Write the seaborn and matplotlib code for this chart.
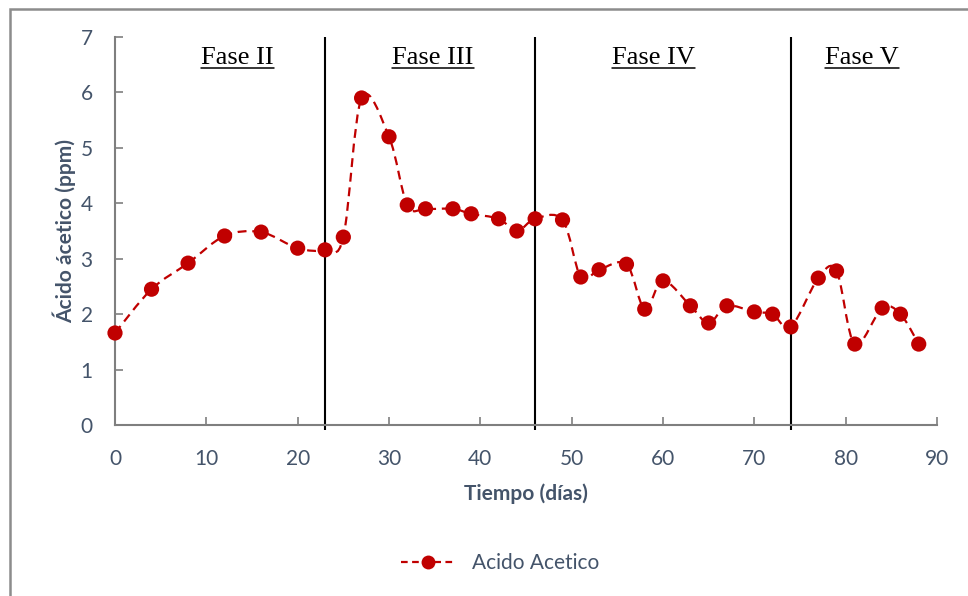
import numpy as np
import matplotlib
matplotlib.use("Agg")
import matplotlib.pyplot as plt
from matplotlib.path import Path
from matplotlib.patches import PathPatch, Rectangle
from matplotlib.lines import Line2D
import seaborn as sns
import pandas as pd

# Acetic acid measurements over the run
dias = [0, 4, 8, 12, 16, 20, 23, 25, 27, 30, 32, 34, 37, 39, 42, 44, 46, 49,
        51, 53, 56, 58, 60, 63, 65, 67, 70, 72, 74, 77, 79, 81, 84, 86, 88]
acido_acetico = [1.66, 2.45, 2.92, 3.41, 3.48, 3.19, 3.16, 3.39, 5.90, 5.20,
                 3.97, 3.90, 3.90, 3.81, 3.72, 3.50, 3.72, 3.70, 2.67, 2.80,
                 2.90, 2.09, 2.60, 2.15, 1.84, 2.15, 2.04, 2.00, 1.77, 2.65,
                 2.78, 1.46, 2.11, 2.00, 1.46]

# Phase boundaries and phase titles
limites_fase = [23, 46, 74]
fases = ["Fase II", "Fase III", "Fase IV", "Fase V"]
centros_fase = [13.4, 34.8, 59.0, 81.8]

x_ticks = [0, 10, 20, 30, 40, 50, 60, 70, 80, 90]
y_ticks = [0, 1, 2, 3, 4, 5, 6, 7]

ROJO = "#C00000"
TEXTO = "#44546A"

df = pd.DataFrame({"dias": dias, "acido": acido_acetico})

sns.set_theme(style="white")
plt.rcParams["font.family"] = ["Lato", "DejaVu Sans"]

fig = plt.figure(figsize=(9.68, 5.96), dpi=100)
ax = fig.add_axes([115 / 968, 1 - 425 / 596, (937 - 115) / 968, (425 - 37) / 596])

ax.set_xlim(0, 90)
ax.set_ylim(0, 7)


def smooth_path(xs, ys):
    # Excel-style smoothed connector: cubic Bezier segments through each point
    pts = np.column_stack([xs, ys]).astype(float)
    n = len(pts)
    verts = [pts[0]]
    codes = [Path.MOVETO]
    for i in range(n - 1):
        p0 = pts[i - 1] if i > 0 else pts[i]
        p1 = pts[i]
        p2 = pts[i + 1]
        p3 = pts[i + 2] if i + 2 < n else pts[i + 1]
        c1 = p1 + (p2 - p0) / 6.0
        c2 = p2 - (p3 - p1) / 6.0
        verts += [c1, c2, p2]
        codes += [Path.CURVE4] * 3
    return Path(verts, codes)


curva = PathPatch(smooth_path(df["dias"], df["acido"]), fill=False,
                  edgecolor=ROJO, linewidth=1.6, linestyle=(0, (4, 2.6)),
                  zorder=3)
ax.add_patch(curva)

sns.scatterplot(data=df, x="dias", y="acido", ax=ax, color=ROJO, s=120,
                edgecolor="none", zorder=4, legend=False, clip_on=False)

# Phase separators
ax.vlines(limites_fase, -0.09, 7, colors="black", linewidth=1.5,
          clip_on=False, zorder=2)

ax.set_xticks(x_ticks)
ax.set_yticks(y_ticks)
ax.tick_params(axis="both", direction="in", length=6, width=1.2,
               color="#7f7f7f", labelsize=15, labelcolor=TEXTO,
               left=True, bottom=True)
ax.tick_params(axis="y", pad=16)
ax.tick_params(axis="x", pad=17)
for s in ["top", "right"]:
    ax.spines[s].set_visible(False)
for s in ["left", "bottom"]:
    ax.spines[s].set_color("#7f7f7f")
    ax.spines[s].set_linewidth(1.5)

ax.set_xlabel("Tiempo (días)", fontsize=15, fontweight="bold", color=TEXTO,
              labelpad=11)
ax.set_ylabel("Ácido ácetico (ppm)", fontsize=15, fontweight="bold",
              color=TEXTO, labelpad=3)

titulos = []
for nombre, cx in zip(fases, centros_fase):
    t = ax.text(cx, 6.63, nombre, ha="center", va="center", fontsize=19,
                family=["Liberation Serif", "DejaVu Serif"], color="black")
    titulos.append(t)

handle = Line2D([], [], color=ROJO, linestyle=(0, (3, 2)), linewidth=1.6,
                marker="o", markersize=10, markeredgecolor="none")
fig.legend([handle], ["Acido Acetico"], loc="center",
           bbox_to_anchor=(500 / 968, 1 - 563 / 596), frameon=False,
           fontsize=15, labelcolor=TEXTO, handlelength=2.6, handletextpad=0.8)

# Outer chart frame
fig.patches.append(Rectangle((9.5 / 968, -0.05), 1.2, 1 - 8.5 / 596 + 0.05,
                             transform=fig.transFigure, fill=False,
                             edgecolor="#8c8c8c", linewidth=1.8))

# Underline the phase titles
fig.canvas.draw()
renderer = fig.canvas.get_renderer()
for t in titulos:
    bb = t.get_window_extent(renderer)
    y = bb.y0 + 1
    fig.add_artist(Line2D([bb.x0 / 968, bb.x1 / 968],
                          [y / 596, y / 596], color="black", linewidth=1.1,
                          transform=fig.transFigure))

fig.savefig("out.png", dpi=100)
